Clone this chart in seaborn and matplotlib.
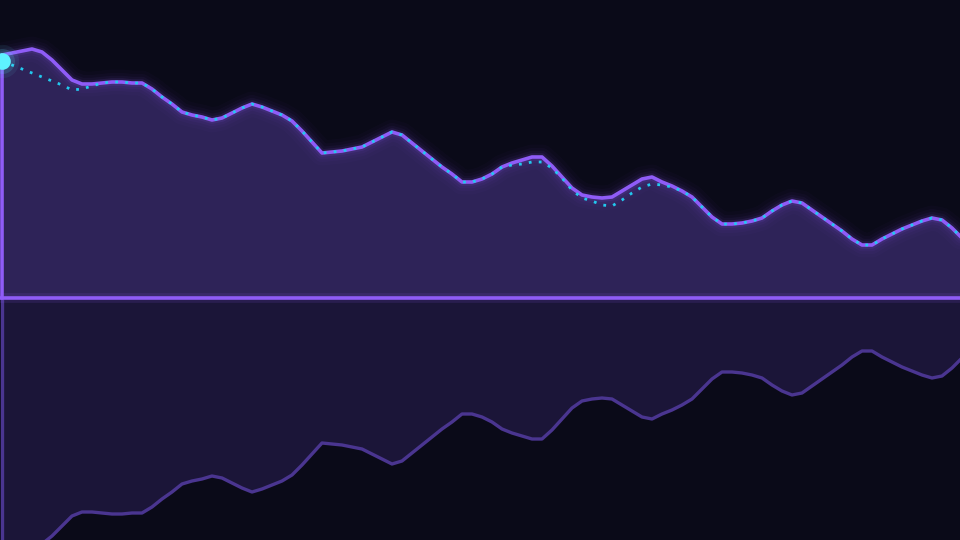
import numpy as np
import pandas as pd
import matplotlib
matplotlib.use("Agg")
import matplotlib.pyplot as plt
import seaborn as sns

# values (height above the baseline)
main_vals = [243, 245, 247, 249, 246, 238, 228, 218, 214, 214, 215, 216, 216, 215, 215,
             209, 201, 194, 186, 183, 181, 178, 180, 185, 190, 194, 191, 187, 183, 177,
             167, 156, 145, 146, 147, 149, 151, 156, 161, 166, 163, 155, 147, 139, 131,
             124, 116, 116, 119, 124, 131, 135, 138, 141, 141, 132, 121, 110, 103, 101,
             100, 101, 107, 113, 119, 121, 116, 112, 107, 101, 91, 81, 74, 74, 75,
             77, 80, 87, 93, 97, 95, 88, 81, 74, 67, 59, 53, 53, 59, 64,
             69, 73, 77, 80, 78, 70, 60]
ref_vals = [237, 233, 229, 225, 221, 217, 213, 208, 209, 212, 215, 216, 216, 215, 215,
            209, 201, 194, 186, 183, 181, 178, 180, 185, 190, 194, 191, 187, 183, 177,
            167, 156, 145, 146, 147, 149, 151, 156, 161, 166, 163, 155, 147, 139, 131,
            124, 116, 116, 119, 124, 131, 133, 134, 136, 136, 130, 120, 108, 100, 97,
            93, 92, 98, 105, 111, 114, 113, 111, 107, 101, 91, 81, 74, 74, 75,
            77, 80, 87, 93, 97, 95, 88, 81, 74, 67, 59, 53, 53, 59, 64,
            69, 73, 77, 80, 78, 70, 60]
steps = list(range(len(main_vals)))

df = pd.DataFrame({"step": steps, "main": main_vals, "ref": ref_vals})
df["mirror"] = -df["main"]

BG = "#0a0a18"
PURPLE = "#8f5cf7"
FILL = "#2e2358"
CYAN = "#22c8ee"

sns.set_style("dark")
fig = plt.figure(figsize=(9.6, 5.4), dpi=100, facecolor=BG)
ax = fig.add_axes([0, 0, 1, 1])
ax.set_facecolor(BG)

# reflection below the baseline
ax.fill_between(df["step"], 0, df["mirror"], color="#1b1538", lw=0, zorder=1)
sns.lineplot(data=df, x="step", y="mirror", ax=ax, color="#4a3590", lw=2.4, zorder=2)
ax.plot([steps[0], steps[0]], [0, -main_vals[0]], color="#4a3590", lw=2.4, zorder=2)

# main area
ax.fill_between(df["step"], 0, df["main"], color=FILL, lw=0, zorder=3)
for w, a in [(18, 0.025), (13, 0.035), (9, 0.05), (5.5, 0.1)]:
    ax.plot(df["step"], df["main"], color=PURPLE, lw=w, alpha=a, zorder=4,
            solid_capstyle="round")
sns.lineplot(data=df, x="step", y="main", ax=ax, color=PURPLE, lw=2.6, zorder=5)
ax.plot([steps[0], steps[0]], [0, main_vals[0]], color=PURPLE, lw=2.6, zorder=5)

# dotted comparison line
sns.lineplot(data=df, x="step", y="ref", ax=ax, color=CYAN, lw=2.0,
             linestyle=(0, (1, 2.6)), zorder=6)

# baseline
ax.axhline(0, color=PURPLE, lw=7, alpha=0.12, zorder=6)
ax.axhline(0, color=PURPLE, lw=2.6, zorder=7)

# start marker with glow
for ms, a in [(24, 0.07), (18, 0.15)]:
    ax.plot(steps[0], ref_vals[0], "o", color="#5ef2ff", ms=ms, alpha=a, mew=0, zorder=8)
ax.plot(steps[0], ref_vals[0], "o", color="#5ef2ff", ms=12, mew=0, zorder=9)

ax.set_xlim(-0.2, 95.8)
ax.set_ylim(-242, 298)
ax.set_xlabel("")
ax.set_ylabel("")
ax.set_xticks([])
ax.set_yticks([])
ax.grid(False)
for s in ax.spines.values():
    s.set_visible(False)
if ax.get_legend():
    ax.get_legend().remove()

fig.savefig("out.png", dpi=100, facecolor=BG)
